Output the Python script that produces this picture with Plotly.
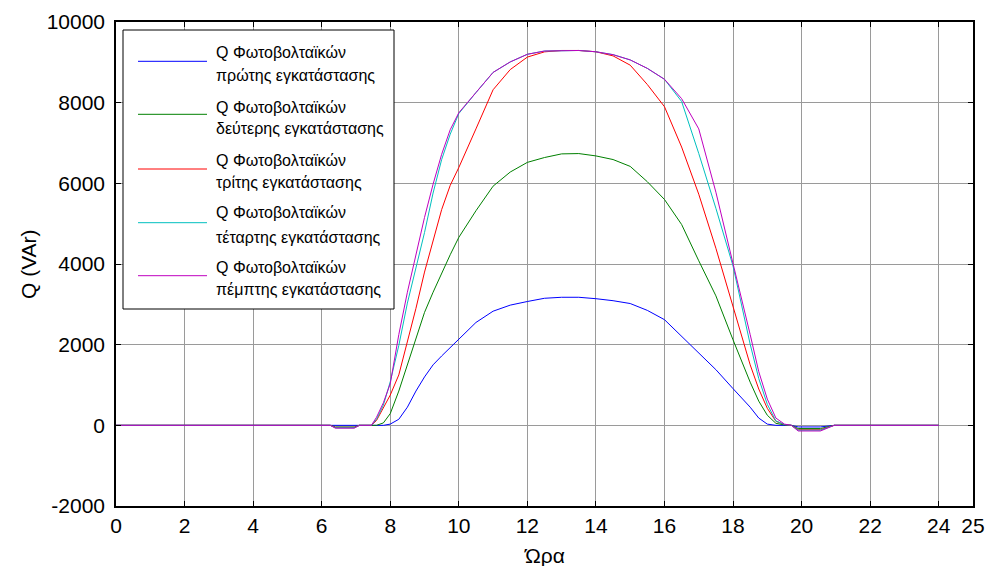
import plotly.graph_objects as go

hours = [0, 6.25, 6.4, 6.95, 7.1, 7.45, 7.6, 7.8, 8.0, 8.25, 8.5, 8.75, 9.0, 9.25, 9.5, 9.75,
         10, 10.5, 11, 11.5, 12, 12.5, 13, 13.5, 14, 14.5, 15, 15.5, 16, 16.5, 17, 17.5,
         18, 18.25, 18.5, 18.75, 19, 19.25, 19.5, 19.7, 19.9, 20.55, 20.95, 24]

q_pv1 = [0, 0, 0, 0, 0, 0, 0, 0, 30, 150, 450, 850, 1200, 1500, 1720, 1930,
         2144, 2550, 2830, 2980, 3070, 3150, 3175, 3175, 3140, 3090, 3020, 2850, 2620, 2200, 1800, 1380,
         910, 680, 450, 180, 30, 0, 0, 0, -40, -40, 0, 0]
q_pv2 = [0, 0, -40, -40, 0, 0, 0, 60, 290, 850, 1500, 2200, 2800, 3300, 3780, 4230,
         4660, 5320, 5930, 6280, 6520, 6640, 6730, 6738, 6680, 6590, 6420, 6040, 5600, 4980, 4080, 3210,
         2120, 1600, 1070, 600, 250, 50, 10, 0, -80, -80, 0, 0]
q_pv3 = [0, 0, -50, -50, 0, 0, 120, 420, 750, 1250, 2050, 2900, 3800, 4600, 5350, 5950,
         6392, 7350, 8320, 8820, 9130, 9260, 9294, 9294, 9262, 9160, 8930, 8450, 7900, 6900, 5730, 4390,
         2950, 2220, 1500, 900, 420, 100, 20, 0, -108, -108, 0, 0]
q_pv4 = [0, 0, -60, -60, 0, 0, 150, 500, 1080, 1980, 3030, 3880, 4780, 5760, 6590, 7220,
         7730, 8250, 8750, 9010, 9200, 9280, 9294, 9294, 9262, 9190, 9060, 8850, 8580, 8030, 6740, 5380,
         3950, 2960, 2010, 1160, 520, 110, 20, 0, -120, -120, 0, 0]
q_pv5 = [0, 0, -70, -70, 0, 0, 200, 560, 1031, 2250, 3300, 4230, 5155, 5979, 6720, 7330,
         7750, 8250, 8750, 9010, 9200, 9280, 9294, 9294, 9262, 9190, 9060, 8850, 8580, 8100, 7350, 5780,
         4010, 3150, 2250, 1330, 650, 180, 30, 0, -140, -140, 0, 0]

series_values = [q_pv1, q_pv2, q_pv3, q_pv4, q_pv5]
legend_line1 = ["Q Φωτοβολταϊκών"] * 5
legend_line2 = ["πρώτης εγκατάστασης", "δεύτερης εγκατάστασης", "τρίτης εγκατάστασης",
                "τέταρτης εγκατάστασης", "πέμπτης εγκατάστασης"]
colors = ["#0000FF", "#008000", "#FF0000", "#00BFBF", "#BF00BF"]

x_ticks = [0, 2, 4, 6, 8, 10, 12, 14, 16, 18, 20, 22, 24, 25]
y_ticks = [-2000, 0, 2000, 4000, 6000, 8000, 10000]

W, H = 987, 566
ML, MR, MT, MB = 116, 14, 22, 60
PW, PH = W - ML - MR, H - MT - MB


def px(xp):
    return (xp - ML) / PW


def py(yp):
    return (H - MB - yp) / PH


FONT = "Liberation Sans, Arial, sans-serif"

fig = go.Figure()
for vals, name, col in zip(series_values, legend_line2, colors):
    fig.add_trace(go.Scatter(x=hours, y=vals, mode="lines", name=name,
                             line=dict(color=col, width=1), showlegend=False))

axis_common = dict(showline=True, linecolor="black", linewidth=1.5, mirror="ticks",
                   ticks="inside", ticklen=5, tickcolor="black", automargin=False,
                   showgrid=True, gridcolor="#9a9a9a", gridwidth=1, zeroline=False,
                   tickfont=dict(family=FONT, size=21, color="black"))

fig.update_xaxes(range=[0, 25], tickmode="array", tickvals=x_ticks,
                 ticktext=[str(v) for v in x_ticks], **axis_common)
fig.update_yaxes(range=[-2000, 10000], tickmode="array", tickvals=y_ticks,
                 ticktext=[str(v) for v in y_ticks], ticklabelstandoff=5, **axis_common)

shapes = [dict(type="rect", xref="paper", yref="paper", x0=px(123), x1=px(394),
               y0=py(309), y1=py(30), line=dict(color="black", width=1), fillcolor="white",
               layer="above")]
annotations = []
line_y = [61.3, 114.3, 169, 222.7, 275.7]
t1_y = [53, 107, 160, 213, 267]
t2_y = [75, 128, 183, 237, 290]
LEG_FONT = dict(family=FONT, size=16, color="black")
for i in range(5):
    shapes.append(dict(type="line", xref="paper", yref="paper", x0=px(138), x1=px(207),
                       y0=py(line_y[i]), y1=py(line_y[i]), line=dict(color=colors[i], width=1),
                       layer="above"))
    annotations.append(dict(xref="paper", yref="paper", x=px(214), y=py(t1_y[i]),
                            text=legend_line1[i], showarrow=False, xanchor="left",
                            yanchor="middle", font=LEG_FONT))
    annotations.append(dict(xref="paper", yref="paper", x=px(214), y=py(t2_y[i]),
                            text=legend_line2[i], showarrow=False, xanchor="left",
                            yanchor="middle", font=LEG_FONT))

annotations.append(dict(xref="paper", yref="paper", x=px(28), y=0.5, text="Q (VAr)",
                        textangle=-90, showarrow=False, xanchor="center", yanchor="middle",
                        font=dict(family=FONT, size=21, color="black")))
annotations.append(dict(xref="paper", yref="paper", x=0.5, y=py(555), text="Ώρα",
                        showarrow=False, xanchor="center", yanchor="middle",
                        font=dict(family=FONT, size=21, color="black")))

fig.update_layout(width=W, height=H, margin=dict(l=ML, r=MR, t=MT, b=MB),
                  paper_bgcolor="white", plot_bgcolor="white",
                  shapes=shapes, annotations=annotations, showlegend=False)

fig.write_html("out.html", config={"displayModeBar": False},
               post_script="document.body.style.margin='0';document.body.style.overflow='hidden';")
